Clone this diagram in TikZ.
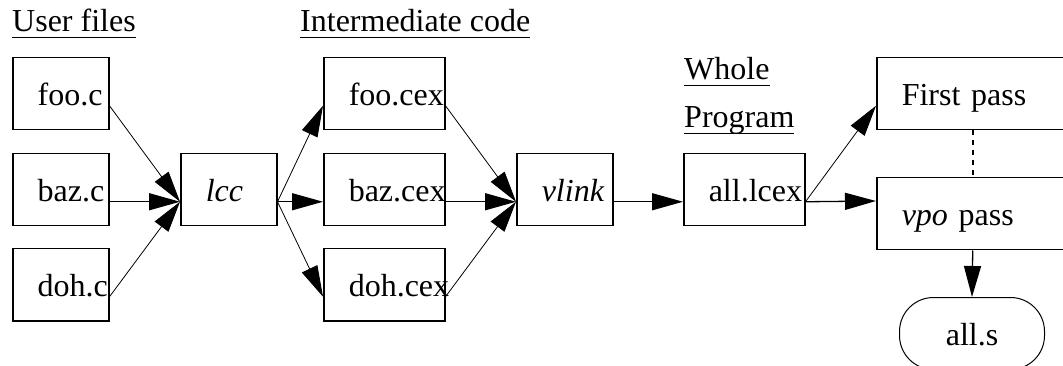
\documentclass[tikz,border=0pt]{standalone}
\usepackage{fontspec}
\setmainfont{Liberation Serif}
\usetikzlibrary{arrows.meta}

% underline set at a fixed distance below the baseline
\newcommand\ulinetxt[1]{\setbox0\hbox{#1}\rlap{\rule[-6pt]{\wd0}{1.3pt}}\box0}

\begin{document}
\begin{tikzpicture}[x=1pt, y=-1pt,
  every node/.style={font=\fontsize{32}{38}\selectfont},
  head/.style={anchor=base west, inner sep=0pt},
  box/.style={draw, line width=1.5pt, anchor=north west, minimum height=72pt,
    inner xsep=25pt, inner ysep=0pt, text height=24pt, text depth=0pt,
    align=left, text width=#1},
  box/.default=46pt,
  term/.style={draw, line width=1pt, rounded corners=34pt, anchor=north,
    minimum width=145pt, minimum height=72pt, inner sep=0pt,
    text height=24pt, text depth=0pt},
  tip/.style={-{Triangle[length=31pt,width=17pt]}},
  flow/.style={tip, line width=1.3pt},
  fan/.style={tip, line width=0.8pt},
  link/.style={line width=1.5pt, dash pattern=on 5pt off 5pt}
]
\useasboundingbox (0,0) rectangle (1063,366);
\clip (0,0) rectangle (1063,366);

% column headings
\node[head] (huser)  at (12,32)  {\ulinetxt{User files}};
\node[head] (hinter) at (300,32) {\ulinetxt{Intermediate code}};
\node[head] (hwhole) at (684,80) {\ulinetxt{Whole}};
\node[head] (hprog)  at (684,128) {\ulinetxt{Program}};

% source files
\node[box] (fooc) at (12,57)  {foo.c};
\node[box] (bazc) at (12,153) {baz.c};
\node[box] (dohc) at (12,248) {doh.c};

% front end
\node[box] (lcc) at (180,153) {\itshape lcc};

% intermediate files
\node[box=71pt] (foocex) at (323,57)  {\mbox{foo.cex}};
\node[box=71pt] (bazcex) at (323,153) {\mbox{baz.cex}};
\node[box=71pt] (dohcex) at (323,248) {\mbox{doh.cex}};

% linker
\node[box] (vlink) at (516,153) {\itshape vlink};

% whole program
\node[box=71pt] (alllcex) at (683,153) {\mbox{all.lcex}};

% optimizer passes
\node[box=142pt] (first) at (876,57)  {First pass};
\node[box=142pt] (vpo)   at (876,177) {\textit{vpo} pass};

% output
\node[term] (alls) at (972,297) {all.s};

% connectors
\draw[fan]  (fooc.base east) -- (lcc.base west);
\draw[flow] (bazc.base east) -- (lcc.base west);
\draw[fan]  (dohc.base east) -- (lcc.base west);

\draw[fan]  (lcc.base east) -- (foocex.base west);
\draw[flow] (lcc.base east) -- (bazcex.base west);
\draw[fan]  (lcc.base east) -- (dohcex.base west);

\draw[fan]  (foocex.base east) -- (vlink.base west);
\draw[flow] (bazcex.base east) -- (vlink.base west);
\draw[fan]  (dohcex.base east) -- (vlink.base west);

\draw[flow] (vlink.base east) -- (alllcex.base west);

\draw[fan]  (alllcex.base east) -- (first.base west);
\draw[flow] (alllcex.base east) -- ([yshift=-24pt]vpo.north west);

\draw[link] (first.south) -- (vpo.north);
\draw[flow] (vpo.south) -- (alls.north);
\end{tikzpicture}
\end{document}
